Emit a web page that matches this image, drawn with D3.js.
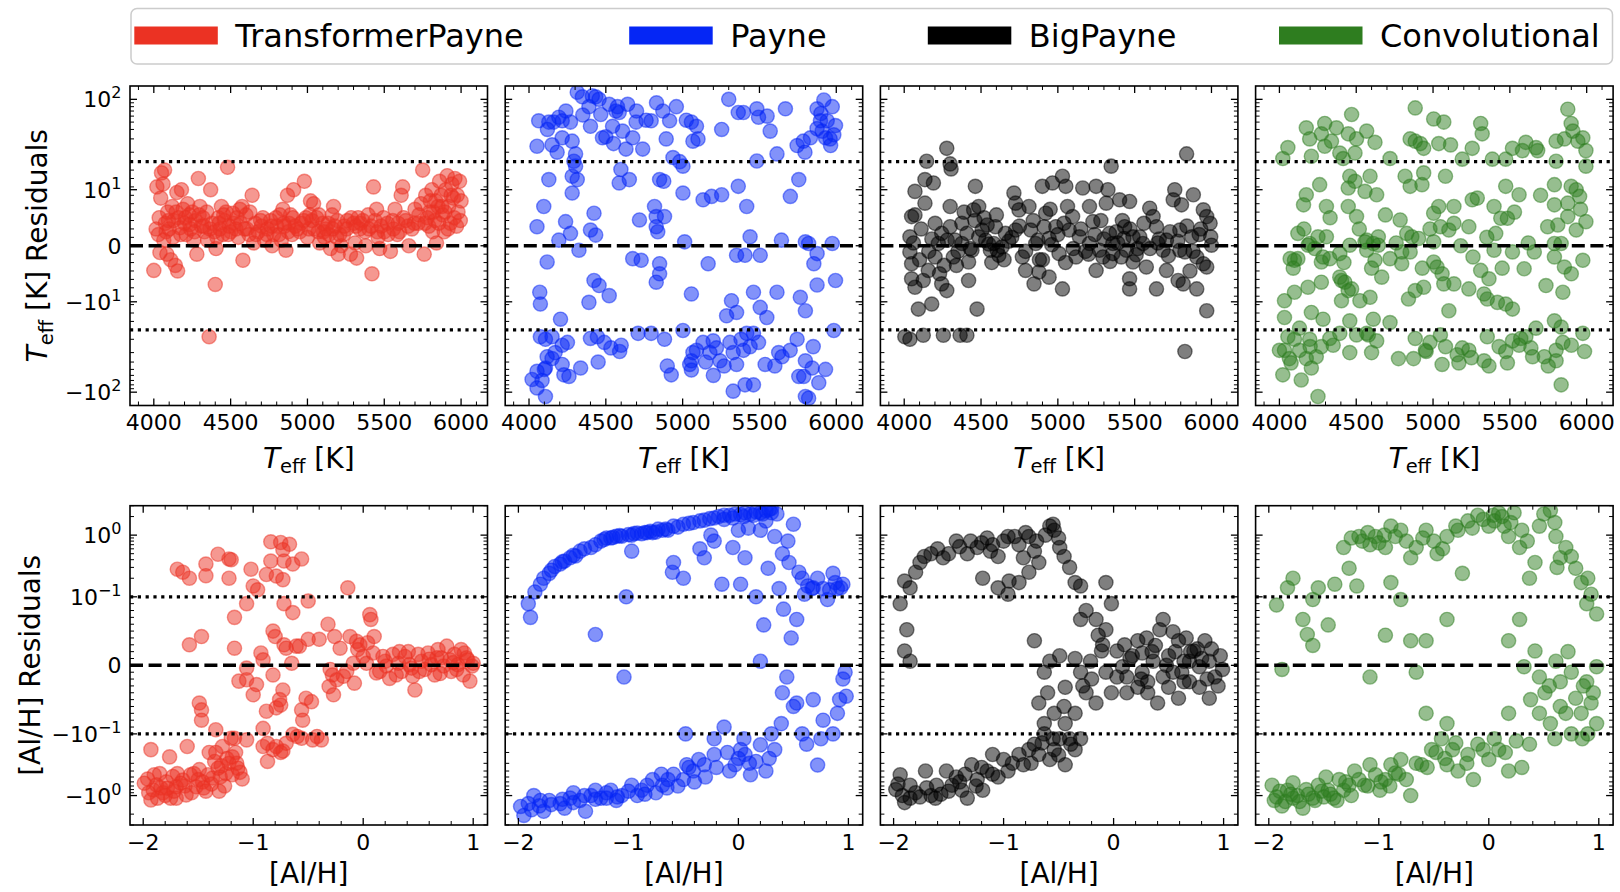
<!DOCTYPE html>
<html><head><meta charset="utf-8">
<script src="https://cdn.jsdelivr.net/npm/d3@7"></script>
<style>body{margin:0;background:#fff}svg{display:block}text{font-family:"DejaVu Sans",sans-serif;fill:#000}</style>
</head><body>
<svg id="c" width="1620" height="892"></svg>
<script>
// ---------------- DATA ----------------
const models = ["TransformerPayne", "Payne", "BigPayne", "Convolutional"];
const colors = ["#eb3223", "#0526f5", "#000000", "#2e7d1f"];
const teffTicks = [4000, 4500, 5000, 5500, 6000];
const alhTicks = [-2, -1, 0, 1];
const teffResidTicks = [-100, -10, 0, 10, 100];
const alhResidTicks = [-1, -0.1, 0, 0.1, 1];
const teffThreshold = 15;   // symlog linear threshold & dotted lines (Teff row)
const alhThreshold = 0.1;   // symlog linear threshold & dotted lines ([Al/H] row)

// Teff residuals vs Teff  [Teff, residual]
const teffResTransformer = [[4000,-4.4],[4020,10.5],[4030,2.0],[4040,-1.2],[4045,8.5],[4050,13],[4060,11],[4070,13.5],[4075,4],[4080,2.5],[4085,-1.5],[4090,6],[4100,3],[4110,-2.5],[4120,7],[4130,4.5],[4140,-3.5],[4150,9.5],[4155,-4.5],[4160,5],[4170,3.2],[4180,10],[4190,6.5],[4200,4],[4210,2],[4220,7.5],[4230,5.5],[4240,3],[4250,6],[4260,1],[4270,4.5],[4280,-1.5],[4290,12],[4300,7],[4310,3.5],[4320,5],[4330,2.5],[4350,1],[4360,-18.5],[4365,3],[4370,10],[4380,4],[4400,-6.9],[4405,-0.5],[4410,1.5],[4420,5],[4430,3],[4440,7],[4450,2],[4460,4.5],[4470,6],[4480,14],[4490,3.5],[4500,2.5],[4520,4],[4540,5],[4550,1.5],[4560,6.5],[4575,7],[4580,-2.6],[4590,3],[4600,5.5],[4620,2],[4640,9],[4650,0.5],[4660,4],[4680,2.5],[4700,3.5],[4710,5],[4720,1],[4740,3],[4760,4.5],[4770,0],[4780,2],[4800,3.5],[4820,5.5],[4830,1],[4840,6.5],[4850,3.5],[4860,-0.8],[4870,9],[4880,4],[4890,5.5],[4900,2],[4910,10],[4920,3.5],[4950,2.5],[4960,4],[4980,11.5],[4990,5],[5000,1.5],[5010,3],[5020,8],[5030,4.5],[5040,7.5],[5060,5],[5070,2.5],[5080,0.5],[5100,4],[5110,1.5],[5120,3],[5140,2],[5150,-0.5],[5160,5.5],[5170,7],[5180,3.5],[5190,1.5],[5200,-1.5],[5210,2],[5220,0],[5240,3.5],[5260,4.5],[5280,-1.5],[5300,4],[5310,0.5],[5320,-2.2],[5330,5],[5340,3],[5360,4.5],[5380,0],[5400,3],[5420,-5],[5430,10.5],[5440,4.5],[5450,6.5],[5460,1.5],[5470,-0.5],[5480,3.5],[5500,2.5],[5520,4],[5540,-1],[5560,3],[5570,6.5],[5590,4],[5600,2.5],[5610,9],[5620,10.5],[5640,4.5],[5660,0],[5680,3],[5700,6.5],[5720,4],[5740,7.5],[5750,13.5],[5760,-1.5],[5770,9],[5780,5],[5790,3.5],[5800,8],[5810,10],[5820,6],[5830,4.5],[5840,0.5],[5850,7],[5860,11.5],[5870,9],[5880,5.5],[5890,2.5],[5900,10],[5910,12.5],[5920,7],[5930,4],[5940,11],[5950,8.5],[5960,12],[5970,3.5],[5980,6],[5990,11.5],[6000,8],
[4015,3],[4035,5],[4065,1],[4095,4.5],[4125,1.5],[4145,6],[4175,2],[4205,5],[4235,3.8],[4265,2.5],[4295,5.5],[4325,3.5],[4345,6],[4395,2.5],[4425,4],[4455,5.5],[4485,2],[4515,5.8],[4535,3],[4565,4],[4605,3],[4625,6],[4665,2],[4695,4.5],[4735,2],[4765,3.5],[4795,5],[4815,2],[4845,4],[4875,2.5],[4905,5],[4935,3],[4975,4.5],[5015,5.5],[5045,3],[5075,5.5],[5105,2.5],[5135,4],[5165,3],[5195,4.5],[5235,2],[5255,3],[5285,5],[5315,3.5],[5345,4],[5375,2.5],[5395,5.5],[5415,3.5],[5455,2.5],[5495,5],[5525,2],[5555,4.5],[5585,2],[5625,5],[5655,3.5],[5695,4],[5725,5.5],[5765,4],[5795,6],[5815,2.5],[5835,8],[5855,4],[5875,7],[5895,6],[5915,3],[5935,9],[5955,5],[5975,9],[5995,4.5]];

const teffResPayne = [[4063,52],[4052,24],[4129,50],[4160,50],[4194,58],[4216,52],[4150,25],[4183,20],[4216,31],[4270,50],[4281,28],[4314,124],[4347,108],[4303,19],[4292,15.2],[4303,14.2],[4281,12.4],[4314,11.8],[4281,9.4],[4390,80],[4400,44],[4412,111],[4434,108],[4456,100],[4467,63],[4478,31],[4500,32],[4522,86],[4544,44],[4565,70],[4576,80],[4587,67],[4609,38],[4631,22],[4642,86],[4598,13.6],[4587,11.2],[4653,11.8],[4697,50],[4740,22],[4762,53],[4795,52],[4675,31],[4850,11.8],[4877,11.5],[4871,70],[4893,30],[4915,52],[4937,17],[4959,80],[4981,15],[5002,14.2],[5002,9.4],[5024,53],[5057,50],[5067,28],[5090,44],[5254,40],[5362,67],[5396,67],[5483,75],[5494,58],[5570,38],[5614,19],[5669,75],[5745,24.5],[5785,28],[5796,20],[5832,31],[5875,75],[5919,98],[5897,52],[5941,52],[5974,80],[5984,34],[5995,45],[5963,24.5],[5875,41],[5908,38],[5930,31],[5483,15.3],[5756,11.8],
[4129,11.8],[4096,7],[4052,3.4],[4194,1],[4238,4.3],[4270,2.2],[4325,-0.8],[4423,5.8],[4400,2.8],[4434,1.9],[4118,-2.9],[4719,4.6],[4675,-2.3],[4730,-2.6],[4817,7],[4828,5.2],[4828,3.4],[4838,2.5],[4850,-3.2],[4850,-5],[4828,-6.5],[4882,5.2],[5013,0.7],[5057,-8.6],[5166,-3.2],[5133,8.2],[5188,8.8],[5254,9.1],[5362,10.6],[5417,7],[5439,1.6],[5505,-1.7],[5351,-1.7],[5406,-1.7],[5643,1],[5701,8.8],[5799,0.7],[5820,0.4],[5875,-1.4],[5854,-3.2],[5974,0.4],[5995,-6.2],[5875,-7],[5614,-8.3],[5461,-8.3],[5766,-9.2],[5318,-9.8],[5351,-11.9],[5286,-12.5],[5548,-12.8],[5505,-11],[5799,-11.6],[4070,-8.3],[4074,-10.4],[4205,-13.1],[4390,-10.1],[4423,-6.2],[4456,-7.1],[4522,-8.9],[5002,-15.3],[5984,-15.3],
[4074,-18.5],[4107,-20],[4150,-18.5],[4216,-24],[4118,-34],[4150,-36],[4107,-48],[4052,-53],[4020,-68],[4085,-70],[4052,-88],[4107,-114],[4227,-59],[4260,-62],[4336,-48],[4216,-43],[4400,-19.5],[4445,-18.5],[4490,-22],[4533,-26],[4590,-29],[4710,-16.7],[4795,-16.7],[4882,-20],[4926,-59],[5057,-51],[5057,-38.5],[5090,-28],[5133,-22],[5177,-30],[5243,-38.5],[5220,-26],[5199,-21],[5308,-22],[5329,-30],[5351,-43],[5396,-28],[5417,-16.7],[5461,-16.7],[5439,-25],[5494,-22],[5537,-43],[5625,-30],[5647,-34],[5745,-20],[5799,-38.5],[5756,-62],[5788,-62],[5843,-48],[5886,-75],[5329,-97],[5406,-80],[5461,-80],[5799,-114],[5820,-120],[5067,-30],[5046,-43],
[4100,-50],[4170,-30],[4250,-22],[4450,-40],[4600,-24],[4900,-45],[5150,-40],[5200,-60],[5270,-45],[5380,-20],[5600,-45],[5700,-28],[5850,-25],[5930,-50],[4120,40],[4240,70],[4350,62],[4550,26],[4700,70],[4830,90],[5100,30],[5300,100],[5550,60],[5900,65],[5960,30]];

const teffResBig = [[4277,22.5],[4299,14.6],[4305,13.7],[4146,15.2],[5838,19],[5347,14.2],[5642,-7.7],[5969,-11.6],[4474,-11.3],[5827,-29],[4004,-18.5],[4037,-20],[4124,-17.7],[4255,-17.7],[4364,-17.7],[4408,-17.7],[4092,-11.3],[4179,-10.4],[5030,-7.7],[5467,-7.7],
[4135,11.8],[4190,11.2],[4070,9.7],[4135,7.6],[4048,5.2],[4070,5.5],[4037,1.6],[4037,-1.1],[4048,-3.2],[4048,-5.9],[4070,-7.4],[4124,-6.2],[4157,-4.4],[4201,-2],[4222,0.4],[4244,2.2],[4201,4],[4299,7],[4299,3.4],[4277,-8],[4244,-6.8],[4320,-2],[4331,1],[4375,4],[4408,2.2],[4419,-2.9],[4419,-6.2],[4463,10.6],[4452,6.4],[4485,7],[4485,1.6],[4507,2.8],[4540,3.7],[4561,-0.8],[4594,3.4],[4616,-1.7],[4637,-0.2],[4659,2.2],[4714,9.4],[4725,7.6],[4747,6.4],[4725,2.8],[4769,-2],[4790,-4.4],[4812,7],[4823,2.8],[4856,0.4],[4845,-6.8],[4877,-4.7],[4899,10.6],[4910,3.4],[4921,5.8],[4965,11.2],[4987,3.4],[5008,-1.4],[5030,12.4],[5052,10.6],[5063,7],[5074,2.8],[5096,5.2],[5118,-2],[5140,1.6],[5162,10.3],[5206,7],[5228,4.3],[5249,-4.4],[5249,10.6],[5271,-0.8],[5293,-2],[5315,7.6],[5326,10],[5336,2.2],[5358,0.4],[5380,2.5],[5402,8.2],[5413,-2],[5435,3.4],[5467,7.9],[5467,-5.9],[5446,-0.8],[5489,-2.9],[5533,1.6],[5576,-3.8],[5598,6.7],[5620,5.2],[5642,3.4],[5685,-0.8],[5707,-4.4],[5761,10],[5751,8.2],[5805,7.3],[5794,2.8],[5794,-0.8],[5827,-1.1],[5783,-6.2],[5816,-6.8],[5882,9.1],[5871,1.6],[5904,-2],[5904,-7.7],[5947,6.4],[5969,5.2],[5991,4],[5947,-3.2],[5969,-3.8],[6000,0.1],[5995,1.6],
[4375,0.4],[4441,-0.8],[4583,0.4],[4605,-0.8],[4943,1.3],[5206,0.4],[5358,-1.4],[5489,1.6],[5554,0.4],[5707,1],[4943,-5.6],[4100,-2.5],[4180,1.2],[4260,-3.5],[4350,-1],[4530,1],[4570,-3],[4680,0.8],[4880,-2.5],[4960,0.2],[5050,-3],[5180,-1],[5300,1.2],[5420,4.5],[5520,-0.5],[5650,0.5],[5730,2.5],[5860,-4.5],[5930,3],
[4060,0.5],[4110,3],[4160,-1],[4230,-5],[4280,1],[4340,-3.5],[4390,6],[4430,-0.5],[4460,4.5],[4520,5],[4550,0.3],[4600,5.5],[4650,-2.5],[4700,1.5],[4750,3.5],[4790,-1],[4840,4.5],[4870,1],[4900,-2.5],[4950,6.5],[5000,2],[5040,4],[5100,-0.5],[5150,3],[5200,-1.5],[5240,2],[5280,4.5],[5340,-2.8],[5390,0.5],[5430,1.3],[5470,3],[5510,-1.6],[5560,4],[5600,-0.5],[5660,1.2],[5720,-1.8],[5780,0.8],[5840,3.5],[5880,-1],[5920,2]];

const teffResConv = [[4055,23],[4022,16.5],[4175,42],[4197,30],[4208,17.7],[4273,35],[4295,48],[4295,24],[4339,28],[4371,42],[4393,19.5],[4415,16.5],[4448,35],[4470,63],[4492,19.5],[4502,30],[4568,38],[4622,27],[4720,16.5],[4851,30],[4884,28],[4884,77],[4917,26],[4939,22.5],[5004,55],[5037,26],[5070,50],[5114,25],[5190,16.2],[5255,22.5],[5310,48],[5320,35],[5386,16.2],[5473,16.2],[5517,22.5],[5582,21],[5604,27],[5670,23],[5681,21],[5801,28],[5801,15.2],[5877,74],[5899,48],[5910,38],[5855,30],[5943,28],[5975,31],[5995,21],[5995,14.2],
[4157,7.3],[4175,9.1],[4262,10.9],[4306,7],[4120,2.2],[4197,0.4],[4251,1.6],[4306,1.6],[4458,12.4],[4492,11.5],[4448,10.3],[4502,5.2],[4448,7],[4557,9.7],[4590,12.4],[4633,9.1],[4568,1],[4611,0.4],[4644,1.6],[4786,4.6],[4829,2.2],[4818,12.4],[4851,10.6],[4928,10.9],[4939,13],[5081,12.4],[5004,5.8],[5037,7],[5048,3.4],[5103,2.8],[5136,7],[5136,4],[5233,3.4],[5255,8.2],[5288,8.5],[5397,7],[5408,2.2],[5441,4.9],[5484,4.9],[5473,10.6],[5560,9.1],[5790,10.9],[5790,7.3],[5746,3.4],[5812,3.7],[5877,5.2],[5877,7.6],[5899,10.6],[5932,10],[5954,8.8],[5932,2.8],[5995,4.3],[5834,0.4],
[4120,-2.3],[4070,-2.3],[4098,-2.6],[4186,0.1],[4284,-2],[4273,-2.9],[4328,-2.3],[4393,-1.4],[4458,0.1],[4557,0.7],[4568,-0.8],[4622,-2.6],[4644,0.1],[4720,-2.3],[4796,-3.2],[4796,-1.1],[4851,-1.1],[4862,1.6],[4906,1.3],[5004,0.7],[5004,-2.9],[5026,-3.8],[5059,-5],[5070,-6.8],[5136,-6.8],[5233,-7.7],[5310,-4.4],[5332,-8.6],[5353,-9.5],[5364,-5.9],[5419,-10.1],[5473,-10.4],[5517,-11.3],[5397,-0.8],[5517,-1.1],[5593,-4.1],[5659,-1.1],[5790,0.4],[5790,-2],[5855,-3.8],[5975,-2.6],[5735,-7.1],[5845,-8.3],[5103,-11.6],[4840,-9.5],[4884,-8],[4939,-7.4],[4666,-5.6],[4590,-9.2],[4524,-9.8],[4470,-7.7],[4404,-6.2],[4393,-5.6],[4426,-6.5],[4448,-8],[4404,-9.8],[4273,-6.5],[4186,-7.4],[4098,-8.3],[4033,-9.8],[4033,-12.8],[4208,-11.9],[4284,-13.1],[4458,-13.4],[4611,-13.1],[4720,-13.7],[4568,-16.7],[4633,-21],
[4055,-18.5],[4033,-28],[4000,-28],[4022,-59],[4065,-36],[4098,-20],[4076,-41],[4131,-14.7],[4131,-28],[4142,-69],[4175,-36],[4197,-20],[4208,-48],[4240,-34],[4251,-114],[4273,-25],[4328,-19.5],[4393,-16.7],[4458,-30],[4502,-17.5],[4579,-17.5],[4775,-36],[4873,-36],[4884,-19.5],[4950,-28],[4955,-29],[5048,-17.5],[5059,-43],[5081,-25],[5157,-32],[5168,-41],[5190,-26],[5233,-28],[5332,-38.5],[5353,-18.5],[5364,-45],[5430,-25],[5473,-29],[5484,-41],[5517,-21],[5571,-19.5],[5604,-18.5],[5637,-26],[5648,-34],[5670,-14.7],[5724,-34],[5790,-13.4],[5801,-28],[5801,-38.5],[5834,-14.5],[5834,-80],[5845,-22],[5975,-16.7],[5986,-29],
[4090,-4],[4160,3],[4230,-0.5],[4330,5],[4420,-3],[4520,3],[4600,-4],[4690,5.5],[4760,0.5],[4930,-4],[4980,3],[5180,0],[5260,-2],[5350,1.5],[5450,-4],[5530,6],[5620,0.5],[5700,9],[5900,-5],[5960,6.5],[4200,-25],[4350,-24],[4600,-30],[4980,-22],[5250,-35],[5560,-24],[5750,-45],[5900,-24]];

// [Al/H] residuals vs [Al/H]  [[Al/H], residual]
const alhResTransformer = [[-1.69,0.28],[-1.64,0.25],[-1.58,0.2],[-1.43,0.34],[-1.43,0.22],[-1.32,0.49],[-1.22,0.41],[-1.2,0.4],[-1.22,0.2],[-1.02,0.28],[-1.0,0.15],[-0.96,0.13],[-1.06,0.09],[-1.17,0.07],[-0.88,0.23],[-0.84,0.78],[-0.84,0.38],[-0.79,0.217],[-0.75,0.76],[-0.73,0.58],[-0.72,0.38],[-0.67,0.71],[-0.64,0.34],[-0.73,0.19],[-0.72,0.09],[-0.64,0.077],[-0.56,0.41],[-0.5,0.094],[-0.14,0.14],[0.06,0.074],[0.07,0.067],
[-1.58,0.03],[-1.47,0.042],[-1.17,0.025],[-0.93,0.018],[-0.91,0.008],[-0.82,0.05],[-0.8,0.042],[-0.72,0.03],[-0.7,0.025],[-0.65,0.003],[-0.61,0.028],[-0.58,0.028],[-0.5,0.038],[-0.4,0.038],[-0.32,0.06],[-0.26,0.042],[-0.21,0.025],[-0.12,0.042],[-0.06,0.035],[-0.05,0.023],[0,0.013],[0.1,0.042],[-1.06,-0.004],[-1.13,-0.023],[-1.06,-0.021],[-0.97,-0.028],[-1.0,-0.043],[-0.82,-0.014],[-0.3,-0.006],[-0.28,-0.014],[-0.24,-0.021],[-0.18,-0.016],[-0.08,-0.026],[-0.31,-0.031],[-0.27,-0.043],
[0.03,0.003],[0.09,0.018],[0.12,-0.011],[0.18,0.013],[0.21,-0.001],[0.24,-0.019],[0.27,0.016],[0.32,0.003],[0.35,-0.009],[0.38,0.013],[0.42,0.001],[0.45,-0.016],[0.47,-0.036],[0.5,0.016],[0.53,0.006],[0.56,-0.006],[0.59,0.018],[0.62,0.001],[0.65,-0.014],[0.68,0.023],[0.71,0.011],[0.73,-0.001],[0.76,0.028],[0.79,0.008],[0.8,-0.009],[0.83,0.016],[0.86,0.001],[0.89,0.023],[0.91,-0.014],[0.94,0.011],[0.97,-0.023],[0.99,-0.001],[1.0,0.003],[0.15,-0.009],[0.3,-0.014],[0.41,0.02],[0.51,-0.009],[0.67,0.011],[0.85,-0.006],[0.92,0.018],[0.04,0.033],[-0.03,0.03],[-0.09,0.003],[-0.15,-0.009],[0.2,0.006],[0.33,0.02],[0.44,-0.004],[0.6,0.009],[0.7,-0.012],[0.82,0.004],[0.95,0.008],
[-1.49,-0.055],[-1.47,-0.065],[-1.47,-0.08],[-1.34,-0.094],[-1.17,-0.118],[-1.06,-0.125],[-0.91,-0.092],[-0.88,-0.067],[-0.79,-0.062],[-0.75,-0.058],[-0.73,-0.036],[-0.76,-0.05],[-0.56,-0.065],[-0.55,-0.08],[-0.52,-0.048],[-0.47,-0.053],[-0.64,-0.102],[-0.56,-0.118],[-0.46,-0.125],[-0.38,-0.125],[-0.91,-0.16],[-0.87,-0.142],[-0.82,-0.18],[-0.87,-0.28],[-0.79,-0.16],[-0.7,-0.142],[-0.73,-0.19],[-0.75,-0.2],
[-1.93,-0.18],[-1.96,-0.54],[-1.91,-0.81],[-1.93,-1.18],[-1.88,-0.67],[-1.85,-0.44],[-1.82,-0.9],[-1.79,-0.6],[-1.76,-0.236],[-1.75,-1.1],[-1.73,-0.49],[-1.7,-0.72],[-1.66,-0.63],[-1.61,-0.98],[-1.6,-0.16],[-1.57,-0.46],[-1.52,-0.72],[-1.49,-0.38],[-1.46,-0.6],[-1.43,-0.85],[-1.4,-0.2],[-1.37,-0.52],[-1.32,-0.36],[-1.31,-0.85],[-1.28,-0.16],[-1.25,-0.44],[-1.22,-0.3],[-1.2,-0.118],[-1.19,-0.236],[-1.14,-0.36],[-1.1,-0.54],[-1.99,-0.63],[-1.87,-1.1],[-1.7,-1.1],[-1.64,-0.56],[-1.54,-0.44],[-1.41,-0.46],[-1.35,-0.28],[-1.29,-0.33],[-1.19,-0.46],[-1.16,-0.2],[-1.69,-0.44],[-1.78,-0.76],[-1.9,-0.46],
[-1.95,-0.9],[-1.84,-0.75],[-1.8,-1.0],[-1.72,-0.85],[-1.62,-0.7],[-1.56,-0.9],[-1.5,-0.55],[-1.45,-0.75],[-1.38,-0.65],[-1.3,-0.5],[-1.26,-0.7],[-1.24,-0.25],[-1.15,-0.3],[-1.12,-0.42],[-1.34,-0.2],[-0.6,-0.11],[-0.42,-0.11]];

const alhResPayne = [[-1.91,0.09],[-1.89,0.07],[-1.77,0.2],[-1.67,0.31],[-1.62,0.34],[-1.53,0.43],[-1.44,0.55],[-1.34,0.63],[-1.25,0.8],[-1.16,0.9],[-1.06,0.96],[-0.97,1.0],[-0.88,1.05],[-0.78,1.1],[-0.69,1.2],[-0.59,1.4],[-0.5,1.5],[-0.41,1.6],[-0.31,1.75],[-0.22,1.9],[-0.13,2.1],[-0.03,2.2],[0.06,2.3],[0.16,2.4],[0.25,2.5],[0.3,2.3],
[-1.2,0.9],[-1.11,0.96],[-0.95,1.06],[-0.83,1.1],[-0.73,1.25],[-0.64,1.2],[-0.13,1.8],[-0.08,2.1],[0.02,2.15],[0.11,2.2],[0.2,2.3],[0.3,2.7],[0,1.2],[0.09,1.3],[0.2,1.2],[0.25,1.7],[-1.48,0.46],[-1.58,0.38],[-1.72,0.24],
[-1.85,0.12],[-1.8,0.16],[-1.7,0.27],[-1.6,0.37],[-1.5,0.47],[-1.4,0.6],[-1.3,0.7],[-1.22,0.85],[-1.14,0.92],[-1.08,0.98],[-1.0,1.02],[-0.92,1.08],[-0.85,1.1],[-0.8,1.15],[-0.75,1.12],[-0.66,1.25],[-0.55,1.35],[-0.45,1.55],[-0.35,1.7],[-0.26,1.85],[-0.18,2.0],[-0.05,1.9],[0.05,2.0],[0.14,2.1],[0.22,2.2],[0.28,2.6],[0.35,2.2],[-0.35,0.6],[-0.25,1.0],[-0.6,0.25],[0.4,0.5],[0.45,0.8],[0.5,1.5],[0.55,0.25],[0.63,0.15],[0.68,0.14],[0.83,0.13],[0.88,0.17],[0.93,0.14],
[-0.97,0.55],[-1.02,0.1],[-1.3,0.045],[-1.04,-0.017],[-0.59,0.36],[-0.5,0.2],[-0.31,0.43],[-0.22,0.8],[-0.15,0.16],[-0.05,0.63],[0.02,0.16],[0.06,0.43],[0.16,0.1],[0.2,0.006],[0.23,0.059],[0.27,0.29],[0.33,0.95],[0.37,0.136],[0.41,0.082],[0.46,0.36],[0.48,0.04],[0.53,0.067],[0.58,0.2],[0.6,0.11],[0.67,0.136],[0.72,0.2],[0.77,0.136],[0.81,0.096],[0.86,0.24],[0.9,0.136],[0.95,0.16],[0.97,-0.01],[0.98,-0.045],[0.9,-0.07],[0.86,-0.1],[0.77,-0.08],[0.72,-0.32],[0.62,-0.147],[0.53,-0.055],[0.44,-0.017],[0.39,-0.085],[0.33,-0.18],[0.25,-0.4],[0.16,-0.28],[0.06,-0.216],[-0.03,-0.316],[-0.13,-0.09],[-0.22,-0.216],
[-0.31,-0.316],[-0.41,-0.4],[-0.5,-0.55],[-0.59,-0.45],[-0.69,-0.68],[-0.78,-0.55],[-0.88,-0.82],[-0.97,-0.68],[-1.06,-1.0],[-1.16,-0.82],[-1.25,-1.1],[-1.34,-1.0],[-1.44,-1.2],[-1.53,-1.1],[-1.62,-1.35],[-1.72,-1.2],[-1.81,-1.47],[-1.91,-1.35],[-1.95,-2.1],[-1.86,-1.0],[-1.77,-1.8],[-1.58,-1.6],[-1.39,-1.8],[-1.3,-0.82],[-1.11,-1.2],[-0.92,-1.0],[-0.83,-0.68],[-0.64,-0.55],[-0.47,-0.316],[-0.36,-0.26],[-0.22,-0.12],[-0.08,-0.4],[0.02,-0.18],[0.11,-0.46],[-0.48,-0.1],
[0.5,-0.06],[0.58,-0.1],[0.68,-0.05],[0.75,-0.12],[0.92,-0.05],[0.95,-0.02],[0.3,-0.1],[0.2,-0.15],[0.1,-0.3],[0.0,-0.25],[-0.1,-0.2],[-0.2,-0.35],[-0.3,-0.5],[-0.4,-0.6],[-0.55,-0.7],[-0.65,-0.75],[-0.75,-0.9],[-0.85,-0.95],[-1.0,-0.85],[-1.1,-1.05],[-1.2,-1.1],[-1.3,-1.15],[-1.4,-1.0],[-1.5,-1.3],[-1.6,-1.15],[-1.7,-1.4],[-1.8,-1.2],[-1.88,-1.7],[-1.98,-1.5],[-1.5,-0.9],[-1.2,-0.9],[-0.7,-0.45],[-0.45,-0.35],[0.05,-0.12],[0.4,-0.04],[0.28,-0.25]];

const alhResBig = [[-1.94,0.09],[-1.85,0.14],[-1.88,0.052],[-1.76,0.36],[-1.66,0.5],[-1.55,0.43],[-1.43,0.8],[-1.33,0.5],[-1.24,0.63],[-1.15,0.9],[-1.1,0.7],[-1.05,0.45],[-0.96,0.95],[-0.86,0.7],[-0.82,0.43],[-0.77,0.95],[-0.72,0.55],[-0.68,0.36],[-0.58,1.4],[-0.54,1.2],[-0.49,0.63],[-0.77,0.25],[-0.86,0.17],[-1.05,0.14],[-1.19,0.2],[-0.96,0.11],[-0.35,0.17],[-0.3,0.067],[-0.25,0.08],[-0.16,0.067],[-0.07,0.17],[-0.02,0.09],[-0.07,0.052],
[-1.9,0.021],[-1.85,0.006],[-0.72,0.036],[-0.63,-0.01],[-0.58,0.006],[-0.49,0.014],[-0.44,-0.032],[-0.3,-0.01],[-0.21,0.006],[-0.14,0.044],[-0.11,0.021],[-0.07,-0.01],[-0.16,-0.055],[-0.25,-0.04],[-0.35,-0.07],[-0.44,-0.085],[-0.54,-0.07],[-0.63,-0.085],[-0.68,-0.055],[-0.39,-0.147],[-0.49,-0.12],
[0.03,0.021],[0.08,-0.002],[0.12,-0.017],[0.17,0.014],[0.22,0.036],[0.26,-0.01],[0.31,-0.024],[0.36,0.006],[0.38,0.029],[0.42,0.052],[0.45,0.067],[0.5,0.014],[0.54,-0.01],[0.59,0.036],[0.64,0.006],[0.69,-0.024],[0.73,0.021],[0.78,-0.002],[0.83,0.036],[0.87,0.006],[0.92,-0.017],[0.97,0.014],[0.99,-0.006],[0.12,-0.04],[0.22,-0.032],[0.31,-0.04],[0.4,-0.055],[0.5,-0.032],[0.59,-0.048],[0.69,0.006],[0.78,-0.032],[0.87,-0.048],[0.03,-0.017],[-0.02,-0.04],[0.26,0.018],[0.54,0.049],[0.76,0.024],[0.89,0.024],[0.45,-0.017],[0.64,-0.024],
[-1.94,-0.46],[-1.96,-0.65],[-1.92,-1.0],[-1.85,-1.1],[-1.76,-1.05],[-1.66,-1.0],[-1.57,-0.95],[-1.47,-0.68],[-1.38,-0.82],[-1.29,-0.316],[-1.24,-0.55],[-1.15,-0.4],[-1.1,-0.216],[-1.0,-0.26],[-0.96,-0.4],[-0.86,-0.216],[-0.82,-0.316],[-0.77,-0.18],[-0.72,-0.147],[-0.68,-0.216],[-0.63,-0.1],[-0.58,-0.26],[-0.54,-0.18],[-0.44,-0.316],[-0.35,-0.18],[-1.71,-0.4],[-1.61,-0.68],[-1.43,-0.5],[-1.19,-0.82],[-1.05,-0.5],[-1.52,-0.4],[-1.85,-0.68],[-1.33,-1.1],
[-1.9,0.18],[-1.8,0.25],[-1.72,0.45],[-1.6,0.6],[-1.5,0.5],[-1.4,0.65],[-1.3,0.8],[-1.2,0.75],[-1.12,0.55],[-1.0,0.8],[-0.9,0.95],[-0.8,1.1],[-0.7,0.8],[-0.62,1.0],[-0.55,1.5],[-0.5,0.9],[-0.45,0.45],[-0.95,0.18],[-0.4,0.3],[-0.3,0.15],[-0.2,-0.02],[-0.1,0.03],[-0.35,0.01],[-0.28,-0.03],[-0.45,-0.06],[-0.6,-0.04],
[0.15,0.01],[0.25,-0.02],[0.35,0.02],[0.48,0.0],[0.56,0.02],[0.62,-0.01],[0.7,0.02],[0.8,0.01],[0.85,-0.02],[0.95,-0.03],[0.1,0.03],[0.3,0.04],[0.66,0.04],
[-1.98,-0.8],[-1.9,-1.3],[-1.8,-0.9],[-1.7,-0.75],[-1.62,-1.1],[-1.5,-0.85],[-1.4,-0.6],[-1.35,-0.45],[-1.25,-0.7],[-1.2,-0.35],[-1.1,-0.45],[-0.92,-0.3],[-0.75,-0.3],[-0.65,-0.14],[-0.5,-0.22],[-0.4,-0.12],[-0.3,-0.12],[-0.55,-0.12]];

const alhResConv = [[-1.93,0.088],[-1.83,0.14],[-1.78,0.2],[-1.69,0.067],[-1.6,0.029],[-1.46,0.059],[-1.6,0.096],[-1.55,0.14],[-1.32,0.63],[-1.27,0.29],[-1.18,0.95],[-1.08,0.7],[-1.03,0.95],[-0.94,0.63],[-0.89,1.4],[-0.85,0.95],[-0.75,0.8],[-0.71,0.43],[-0.66,0.63],[-0.57,1.2],[-0.47,0.5],[-0.38,0.95],[-0.28,1.2],[-0.19,1.7],[-0.1,2.1],[0,1.4],[0.04,2.1],[0.09,2.3],[0.14,1.4],[0.18,0.95],[0.23,2.3],[0.28,0.63],[0.37,0.2],[0.42,0.36],[0.46,1.4],[0.56,2.5],[0.61,0.95],[0.65,0.43],[0.7,0.63],[0.79,0.29],[0.84,0.17],[0.89,0.09],[0.93,0.11],[0.98,0.075],[-0.94,0.044],[-0.89,0.17],[-0.71,0.036],[-0.8,0.096],[-0.38,0.067],[-0.24,0.24],
[-1.88,-0.006],[-1.08,-0.017],[-0.66,-0.01],[-0.57,0.036],[0.42,0.021],[0.46,-0.017],[0.51,-0.04],[0.61,0.006],[0.65,-0.024],[0.75,-0.01],[0.79,-0.048],[0.84,-0.07],[0.89,-0.024],[0.93,-0.055],[0.98,-0.002],[0.98,-0.085],[0.75,-0.1],[0.7,-0.07],[0.56,-0.085],[0.46,-0.07],[0.32,-0.002],[0.28,0.067],[0.18,0.036],[-0.38,-0.085],[-0.57,-0.07],[0.18,-0.07],[0.37,-0.147],
[-1.97,-0.68],[-1.93,-1.05],[-1.88,-1.47],[-1.83,-0.82],[-1.78,-1.1],[-1.74,-1.0],[-1.69,-1.6],[-1.64,-0.95],[-1.6,-1.1],[-1.55,-0.68],[-1.5,-1.05],[-1.46,-0.82],[-1.41,-1.1],[-1.36,-0.55],[-1.32,-0.82],[-1.22,-0.4],[-1.13,-0.68],[-1.03,-0.46],[-0.99,-0.82],[-0.94,-0.55],[-0.89,-0.316],[-0.85,-0.43],[-0.8,-0.26],[-0.75,-0.55],[-0.71,-1.0],[-0.61,-0.316],[-0.52,-0.18],[-0.43,-0.12],[-0.33,-0.18],[-0.28,-0.4],[-0.19,-0.216],[-0.1,-0.147],[0,-0.26],[0.09,-0.18],[0.18,-0.4],[-0.14,-0.55],[-0.38,-0.316],[-1.08,-0.316],[-1.27,-0.68],[-1.78,-0.62],[-1.48,-0.5],
[-1.25,0.9],[-1.15,0.8],[-1.1,1.1],[-1.0,0.75],[-0.95,1.0],[-0.8,1.2],[-0.6,0.9],[-0.5,0.8],[-0.42,0.6],[-0.3,1.4],[-0.15,1.3],[-0.05,1.8],[0.05,1.7],[0.12,2.0],[0.2,1.6],[0.3,1.2],[0.35,0.8],[0.5,2.2],[0.6,1.6],[0.75,0.45],[0.9,0.2],[0.62,0.3],[-1.4,0.16],[-1.65,0.045],[-1.2,0.15],
[0.55,-0.03],[0.72,0.02],[0.86,-0.03],[0.95,-0.04],[0.65,-0.06],[0.38,-0.05],[0.6,-0.12],[0.85,-0.12],[0.9,-0.1],
[-1.95,-1.2],[-1.9,-0.85],[-1.85,-1.25],[-1.8,-0.95],[-1.72,-1.25],[-1.66,-0.8],[-1.58,-1.2],[-1.52,-0.85],[-1.44,-0.95],[-1.38,-1.2],[-1.3,-0.6],[-1.25,-1.0],[-1.18,-0.55],[-1.1,-0.7],[-0.98,-0.6],[-0.9,-0.7],[-0.82,-0.45],[-0.66,-0.3],[-0.56,-0.35],[-0.48,-0.2],[-0.4,-0.25],[-0.3,-0.14],[-0.2,-0.3],[-0.05,-0.18],[0.05,-0.12],[0.15,-0.2],[0.25,-0.13],[0.3,-0.35]];

const teffData = [teffResTransformer, teffResPayne, teffResBig, teffResConv];
const alhData = [alhResTransformer, alhResPayne, alhResBig, alhResConv];

// ---------------- LAYOUT ----------------
const svg = d3.select("#c");
const W = 357.5;
const lefts = [130, 505.2, 880.4, 1255.6];
const rowsCfg = [
  {top: 86, bottom: 405.5, xdom: [3845, 6172], xt: teffTicks, xminor: d3.range(3900, 6101, 100),
   L: teffThreshold, ymax: 150, yt: teffResidTicks, data: teffData, ylab: "teff", xlabOff: 62},
  {top: 505.7, bottom: 825, xdom: [-2.12, 1.13], xt: alhTicks, xminor: d3.range(-2.0, 1.01, 0.2),
   L: alhThreshold, ymax: 3, yt: alhResidTicks, data: alhData, ylab: "alh", xlabOff: 58}
];

function symT(v, L) {
  const a = 1 / (1 - 1 / 10);
  const s = Math.sign(v), m = Math.abs(v);
  return m <= L ? s * m / L * a : s * (a + Math.log10(m / L));
}
function makeY(L, ymax, range) {
  const lin = d3.scaleLinear().domain([symT(-ymax, L), symT(ymax, L)]).range(range);
  return v => lin(symT(v, L));
}
function minorY(L, ymax) {
  const out = [];
  for (let k = 1; k <= 9; k++) out.push(k * L / 10);
  for (let e = -3; e <= 3; e++) for (let s = 2; s <= 9; s++) {
    const v = s * Math.pow(10, e);
    if (v > L && v <= ymax) out.push(v);
  }
  return out.concat(out.map(v => -v));
}
function supLabel(sel, v) {
  if (v === 0) { sel.text("0"); return; }
  const e = Math.round(Math.log10(Math.abs(v)));
  sel.append("tspan").text((v < 0 ? "\u2212" : "") + "10");
  sel.append("tspan").attr("font-size", "16px").attr("dy", -9).text(e < 0 ? "\u2212" + (-e) : String(e));
}
const fmtX = v => (v < 0 ? "\u2212" + Math.abs(v) : String(v));

const defs = svg.append("defs");
const MAJ = 7, MIN = 4;

rowsCfg.forEach((R, ri) => {
  const y = makeY(R.L, R.ymax, [R.bottom, R.top]);
  const yMinor = minorY(R.L, R.ymax);
  const xMinor = R.xminor.map(v => Math.round(v * 1000) / 1000).filter(v => !R.xt.includes(v));
  for (let c = 0; c < 4; c++) {
    const x = d3.scaleLinear().domain(R.xdom).range([lefts[c], lefts[c] + W]);
    const id = "clip" + ri + c;
    defs.append("clipPath").attr("id", id).append("rect")
      .attr("x", lefts[c]).attr("y", R.top).attr("width", W).attr("height", R.bottom - R.top);
    const g = svg.append("g");
    // points
    g.append("g").attr("clip-path", `url(#${id})`).selectAll("circle").data(R.data[c]).join("circle")
      .attr("cx", d => x(d[0])).attr("cy", d => y(d[1])).attr("r", 7.1)
      .attr("fill", colors[c]).attr("fill-opacity", 0.5)
      .attr("stroke", colors[c]).attr("stroke-opacity", 0.5).attr("stroke-width", 1.4);
    // reference lines
    const lg = g.append("g").attr("clip-path", `url(#${id})`);
    [R.L, -R.L].forEach(v => lg.append("line").attr("x1", lefts[c]).attr("x2", lefts[c] + W)
      .attr("y1", y(v)).attr("y2", y(v)).attr("stroke", "#000").attr("stroke-width", 3.2)
      .attr("stroke-dasharray", "3.2,4.6"));
    lg.append("line").attr("x1", lefts[c]).attr("x2", lefts[c] + W)
      .attr("y1", y(0)).attr("y2", y(0)).attr("stroke", "#000").attr("stroke-width", 3.5)
      .attr("stroke-dasharray", "13,5.6");
    // ticks (inward, all sides)
    const tg = g.append("g").attr("stroke", "#000");
    const L0 = lefts[c], R0 = lefts[c] + W;
    R.xt.forEach(v => {
      const px = x(v);
      tg.append("line").attr("x1", px).attr("x2", px).attr("y1", R.bottom).attr("y2", R.bottom - MAJ).attr("stroke-width", 1.3);
      tg.append("line").attr("x1", px).attr("x2", px).attr("y1", R.top).attr("y2", R.top + MAJ).attr("stroke-width", 1.3);
    });
    xMinor.forEach(v => {
      const px = x(v);
      if (px < L0 || px > R0) return;
      tg.append("line").attr("x1", px).attr("x2", px).attr("y1", R.bottom).attr("y2", R.bottom - MIN).attr("stroke-width", 1);
      tg.append("line").attr("x1", px).attr("x2", px).attr("y1", R.top).attr("y2", R.top + MIN).attr("stroke-width", 1);
    });
    R.yt.forEach(v => {
      const py = y(v);
      tg.append("line").attr("x1", L0).attr("x2", L0 + MAJ).attr("y1", py).attr("y2", py).attr("stroke-width", 1.3);
      tg.append("line").attr("x1", R0).attr("x2", R0 - MAJ).attr("y1", py).attr("y2", py).attr("stroke-width", 1.3);
    });
    yMinor.forEach(v => {
      const py = y(v);
      tg.append("line").attr("x1", L0).attr("x2", L0 + MIN).attr("y1", py).attr("y2", py).attr("stroke-width", 1);
      tg.append("line").attr("x1", R0).attr("x2", R0 - MIN).attr("y1", py).attr("y2", py).attr("stroke-width", 1);
    });
    // frame
    g.append("rect").attr("x", L0).attr("y", R.top).attr("width", W).attr("height", R.bottom - R.top)
      .attr("fill", "none").attr("stroke", "#000").attr("stroke-width", 1.6);
    // x tick labels
    R.xt.forEach(v => {
      g.append("text").attr("x", x(v)).attr("y", R.bottom + 24.5).attr("text-anchor", "middle")
        .attr("font-size", "22px").text(fmtX(v));
    });
    // x label
    const xl = g.append("text").attr("x", L0 + W / 2).attr("y", R.bottom + R.xlabOff).attr("text-anchor", "middle").attr("font-size", "28px");
    if (R.ylab === "teff") {
      xl.append("tspan").attr("font-style", "italic").text("T");
      xl.append("tspan").attr("font-size", "19.5px").attr("dy", 5.5).text("eff");
      xl.append("tspan").attr("dy", -5.5).text(" [K]");
    } else {
      xl.text("[Al/H]");
    }
    // y tick labels + y label (first column only)
    if (c === 0) {
      R.yt.forEach(v => {
        const t = g.append("text").attr("x", L0 - 8.5).attr("y", y(v) + 8).attr("text-anchor", "end").attr("font-size", "22px");
        supLabel(t, v);
      });
      const cy = (R.top + R.bottom) / 2;
      const bx = R.ylab === "teff" ? 47 : 39.5;
      const yl = g.append("text").attr("transform", `translate(${bx},${cy}) rotate(-90)`)
        .attr("text-anchor", "middle").attr("font-size", "28px");
      if (R.ylab === "teff") {
        yl.append("tspan").attr("font-style", "italic").text("T");
        yl.append("tspan").attr("font-size", "19.5px").attr("dy", 5.5).text("eff");
        yl.append("tspan").attr("dy", -5.5).text(" [K] Residuals");
      } else {
        yl.text("[Al/H] Residuals");
      }
    }
  }
});

// ---------------- LEGEND ----------------
const leg = svg.append("g");
leg.append("rect").attr("x", 131).attr("y", 8.5).attr("width", 1481.5).attr("height", 55.5).attr("rx", 6)
  .attr("fill", "#fff").attr("stroke", "#cccccc").attr("stroke-width", 1.5);
const legX = [134.3, 629.2, 927.8, 1279];
models.forEach((m, i) => {
  leg.append("rect").attr("x", legX[i]).attr("y", 26.5).attr("width", 83.5).attr("height", 18).attr("fill", colors[i]);
  leg.append("text").attr("x", legX[i] + 101).attr("y", 46.5).attr("font-size", "32px").text(m);
});
</script>
</body></html>
